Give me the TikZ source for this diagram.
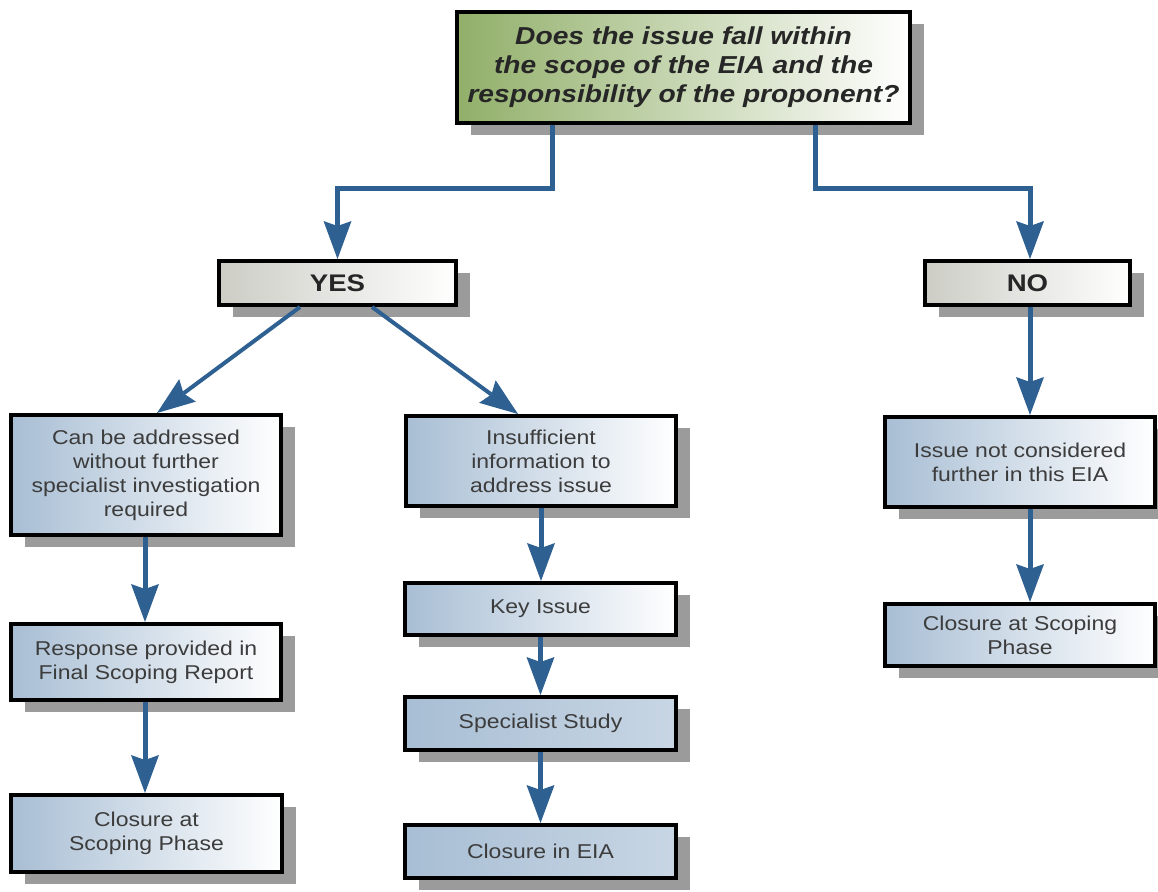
\documentclass[tikz,border=0pt]{standalone}
\usepackage{fontspec}
\setmainfont{Liberation Sans}[FakeStretch=1.15]
\usetikzlibrary{arrows.meta,shadows}
\definecolor{arrowblue}{RGB}{46,96,145}
\definecolor{shadowgray}{RGB}{155,155,155}
\definecolor{greenL}{RGB}{145,175,105}
\definecolor{grayL}{RGB}{205,205,198}
\definecolor{blueL}{RGB}{168,190,212}
\definecolor{blueM}{RGB}{200,214,228}
\definecolor{txtgray}{RGB}{60,60,60}
\begin{document}
\begin{tikzpicture}[x=1pt,y=-1pt,
  boxbase/.style={draw=black, line width=4pt, inner sep=0pt, align=center,
    drop shadow={shadow xshift=14pt, shadow yshift=-12pt, fill=shadowgray, opacity=1}},
  qbox/.style={boxbase, left color=greenL, right color=white,
    font=\fontsize{24.5}{29}\selectfont\bfseries\itshape, text=black!85},
  ynbox/.style={boxbase, left color=grayL, right color=white,
    font=\fontsize{24}{28}\selectfont\bfseries, text=black!85},
  bbox/.style={boxbase, left color=blueL, right color=white,
    font=\fontsize{20}{24}\selectfont, text=txtgray},
  sbox/.style={boxbase, left color=blueL, right color=blueM,
    font=\fontsize{20}{24}\selectfont, text=txtgray},
  conn/.style={draw=arrowblue, line width=5pt,
    -{Stealth[length=38pt,width=28pt,inset=5pt,line width=0pt]}},
  conn2/.style={conn, line width=4pt}
]
\useasboundingbox (0,0) rectangle (1158,891);

\node[qbox, minimum width=453, minimum height=111] (top) at (683.5,67.5)
  {Does the issue fall within\\ the scope of the EIA and the\\ responsibility of the proponent?};
\node[ynbox, minimum width=237, minimum height=44] (yes) at (337.5,283) {YES};
\node[ynbox, minimum width=205, minimum height=44] (no) at (1027.5,283) {NO};

\node[bbox, minimum width=270, minimum height=120] (can) at (146,475)
  {Can be addressed\\ without further\\ specialist investigation\\ required};
\node[bbox, minimum width=270, minimum height=90] (insuf) at (541,461)
  {Insufficient\\ information to\\ address issue};
\node[bbox, minimum width=270, minimum height=90] (issue) at (1020,462)
  {Issue not considered\\ further in this EIA};

\node[bbox, minimum width=270, minimum height=76] (resp) at (146,662)
  {Response provided in\\ Final Scoping Report};
\node[bbox, minimum width=271, minimum height=52] (key) at (540.5,609) {Key Issue};
\node[sbox, minimum width=271, minimum height=53] (spec) at (540.5,723.5) {Specialist Study};
\node[sbox, minimum width=271, minimum height=53] (cleia) at (540.5,851.5) {Closure in EIA};
\node[bbox, minimum width=271, minimum height=77] (clL) at (146.5,833.5)
  {Closure at\\ Scoping Phase};
\node[bbox, minimum width=270, minimum height=62] (clR) at (1020,635)
  {Closure at Scoping\\ Phase};

\draw[conn] ([xshift=-131.5pt]top.south) -- ++(0,63) -| (yes.north);
\draw[conn] ([xshift=131.5pt]top.south) -- ++(0,63) -| ([xshift=2.5pt]no.north);
\draw[conn2] ([xshift=-37.5pt]yes.south) -- ([xshift=11pt]can.north);
\draw[conn2] ([xshift=34.5pt]yes.south) -- ([xshift=-23pt]insuf.north);
\draw[conn] ([xshift=-1pt]can.south) -- ([xshift=-1pt]resp.north);
\draw[conn] ([xshift=-1pt]resp.south) -- ([xshift=-1.5pt]clL.north);
\draw[conn] (insuf.south) -- (insuf.south |- key.north);
\draw[conn] (key) -- (spec);
\draw[conn] (spec) -- (cleia);
\draw[conn] ([xshift=2.5pt]no.south) -- ([xshift=2.5pt]no.south |- issue.north);
\draw[conn] ([xshift=10pt]issue.south) -- ([xshift=10pt]clR.north);
\end{tikzpicture}
\end{document}
